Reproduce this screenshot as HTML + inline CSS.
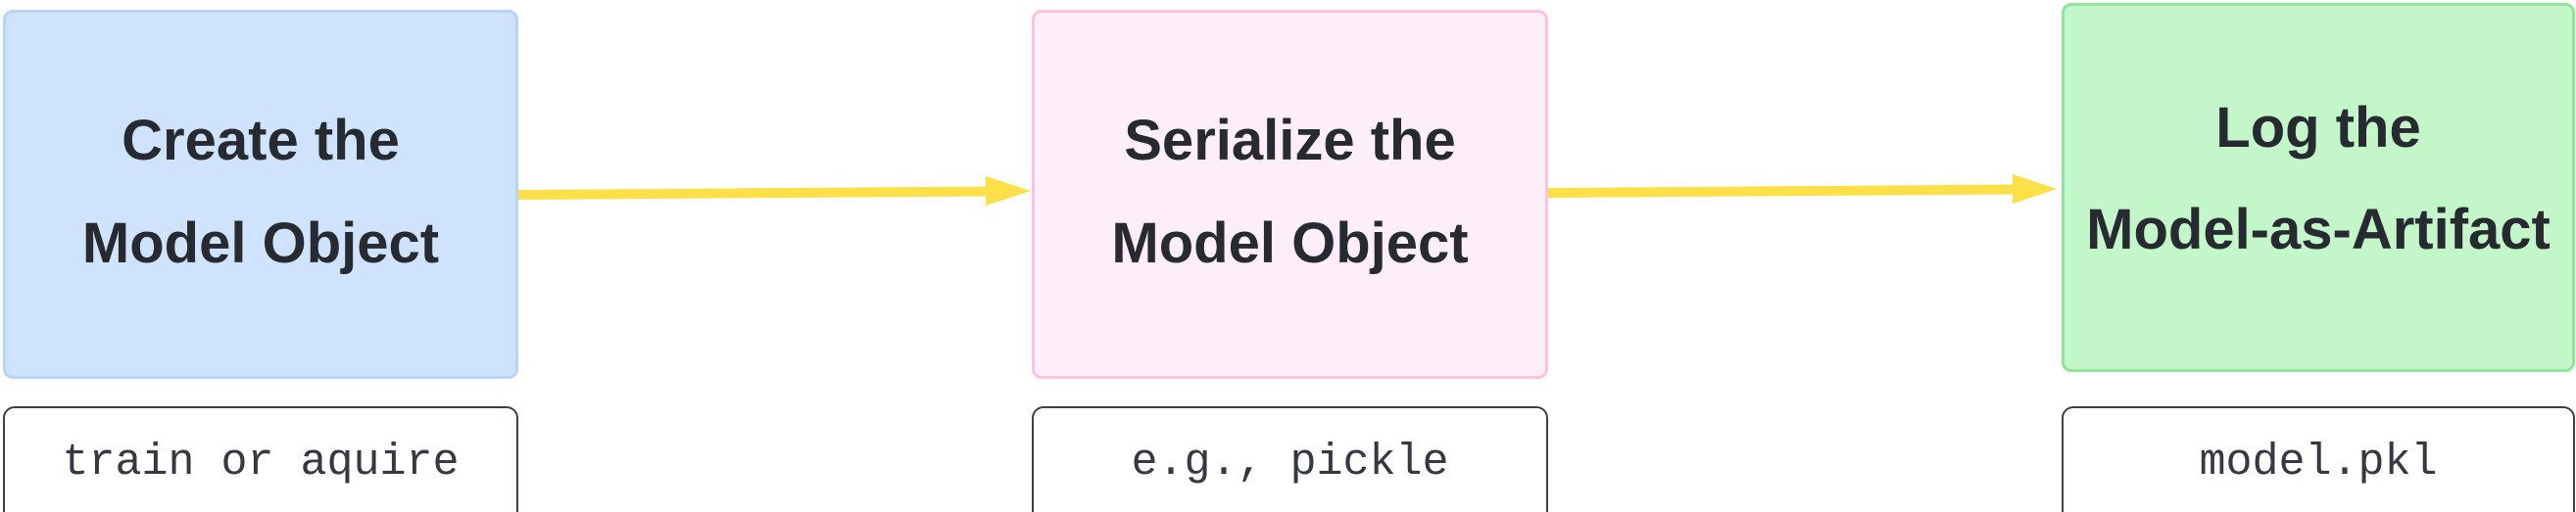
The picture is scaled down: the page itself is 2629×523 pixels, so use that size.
<!DOCTYPE html>
<html><head><meta charset="utf-8"><style>
html,body{margin:0;padding:0;background:#fff;width:2629px;height:523px;overflow:hidden;position:relative}
.b{position:absolute;box-sizing:border-box;border:3px solid;border-radius:10px;font-family:"Liberation Sans",sans-serif;font-weight:bold;font-size:58px;color:#272a31;text-align:center}
.b div{position:absolute;left:0;right:0;line-height:1}
.s{position:absolute;box-sizing:border-box;border:2px solid #3d4049;border-radius:12px;height:130px;top:415px;font-family:"Liberation Mono",monospace;font-size:45px;color:#363942;text-align:center;line-height:112px}
</style></head><body>
<div class="b" style="left:3px;top:10px;width:526px;height:377px;background:#cfe3fd;border-color:#b5d5fd">
<div style="top:102px">Create the</div><div style="top:207px">Model Object</div></div>
<div class="b" style="left:1053px;top:10px;width:527px;height:377px;background:#fdeef9;border-color:#fdc2dd">
<div style="top:102px">Serialize the</div><div style="top:207px">Model Object</div></div>
<div class="b" style="left:2104px;top:3px;width:524px;height:377px;background:#c3f6c8;border-color:#8ee698">
<div style="top:96px">Log the</div><div style="top:200px">Model-as-Artifact</div></div>
<div class="s" style="left:3px;width:526px">train or aquire</div>
<div class="s" style="left:1053px;width:527px">e.g., pickle</div>
<div class="s" style="left:2104px;width:524px">model.pkl</div>
<svg width="2629" height="523" style="position:absolute;left:0;top:0">
<line x1="529" y1="199" x2="1008" y2="195.5" stroke="#fde047" stroke-width="10"/>
<polygon points="1006,180 1052,195 1006,210" fill="#fde047"/>
<line x1="1580" y1="197" x2="2056" y2="193.5" stroke="#fde047" stroke-width="10"/>
<polygon points="2054,178 2099,193 2054,208" fill="#fde047"/>
</svg>
</body></html>
